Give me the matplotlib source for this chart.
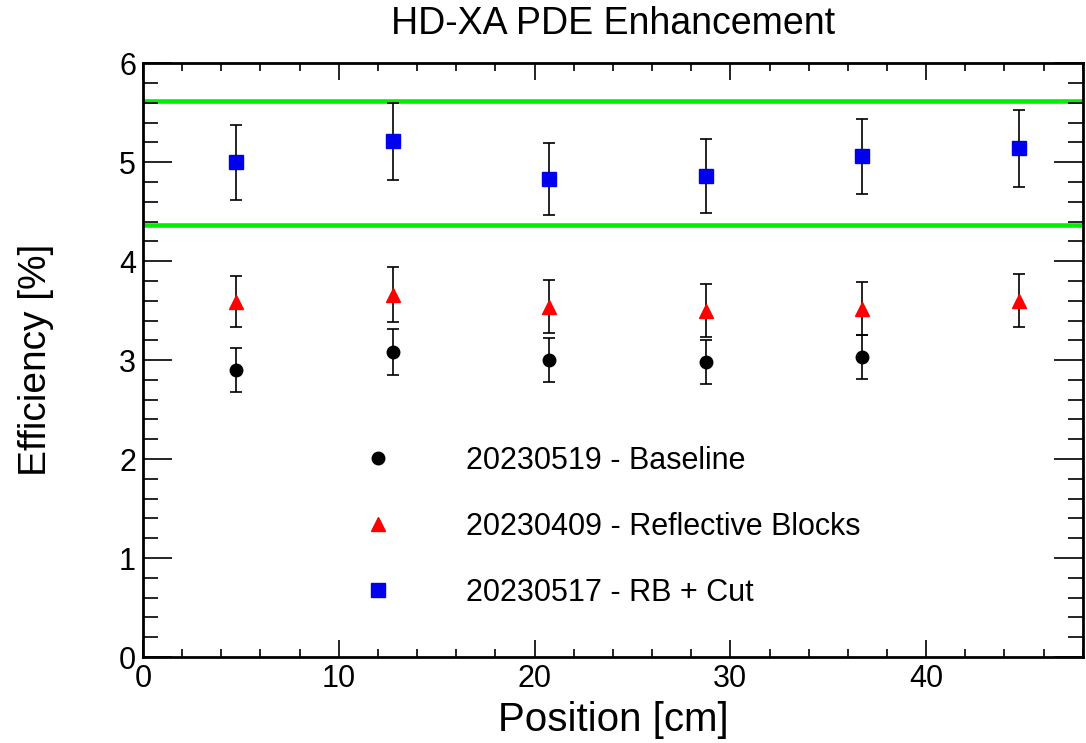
import numpy as np
import matplotlib
matplotlib.use("Agg")
import matplotlib.pyplot as plt
from matplotlib.ticker import MultipleLocator

plt.rcParams['font.family'] = ['Liberation Sans', 'DejaVu Sans']

# positions [cm]
pos = [4.75, 12.75, 20.75, 28.75, 36.75, 44.75]

# 20230519 - Baseline
base_y = [2.90, 3.08, 3.00, 2.98, 3.03]
base_err = [0.22, 0.23, 0.22, 0.22, 0.22]

# 20230409 - Reflective Blocks
rb_y = [3.59, 3.66, 3.54, 3.50, 3.52, 3.60]
rb_err = [0.26, 0.28, 0.27, 0.27, 0.27, 0.27]

# 20230517 - RB + Cut
cut_y = [5.00, 5.21, 4.83, 4.86, 5.06, 5.14]
cut_err = [0.38, 0.39, 0.36, 0.37, 0.38, 0.39]

band = [4.36, 5.62]

fig = plt.figure(figsize=(10.86, 7.43), dpi=100)
ax = fig.add_axes([0.1317, 0.1157, 0.8653, 0.7993])

for yb in band:
    ax.axhline(yb, color='#00ee00', lw=3.3, zorder=1)

ekw = dict(ecolor='black', elinewidth=1.2, capsize=4, capthick=1.2, zorder=3)
ax.errorbar(pos[:len(base_y)], base_y, yerr=base_err, fmt='o', color='black',
            ms=9, label='20230519 - Baseline', **ekw)
ax.errorbar(pos, rb_y, yerr=rb_err, fmt='^', color='red', mec='red',
            ms=10, label='20230409 - Reflective Blocks', **ekw)
ax.errorbar(pos, cut_y, yerr=cut_err, fmt='s', color='#0000ee', mec='#0000ee',
            ms=9.5, label='20230517 - RB + Cut', **ekw)

ax.set_xlim(0, 48)
ax.set_ylim(0, 6)
ax.xaxis.set_major_locator(MultipleLocator(10))
ax.xaxis.set_minor_locator(MultipleLocator(2))
ax.yaxis.set_major_locator(MultipleLocator(1))
ax.yaxis.set_minor_locator(MultipleLocator(0.2))
ax.tick_params(which='both', direction='in', top=True, right=True, width=1.2,
               labelsize=22)
ax.tick_params(axis='y', which='major', length=21)
ax.tick_params(axis='y', which='minor', length=11)
ax.tick_params(axis='x', which='major', length=12)
ax.tick_params(axis='x', which='minor', length=6)
ax.tick_params(axis='x', pad=5)
ax.tick_params(axis='y', pad=5)
for s in ax.spines.values():
    s.set_linewidth(2)

ax.set_xlabel('Position [cm]', fontsize=29, labelpad=5)
ax.set_ylabel('Efficiency [%]', fontsize=28, labelpad=47)
ax.set_title('HD-XA PDE Enhancement', fontsize=27, pad=21)

handles, labels = ax.get_legend_handles_labels()
hs = [h[0] for h in handles]
leg = ax.legend(hs, labels, loc='center left', bbox_to_anchor=(0.188, 0.219),
                frameon=False, fontsize=22, handletextpad=1.9,
                labelspacing=1.18, markerscale=1.0)

fig.savefig('out.png', dpi=100)
